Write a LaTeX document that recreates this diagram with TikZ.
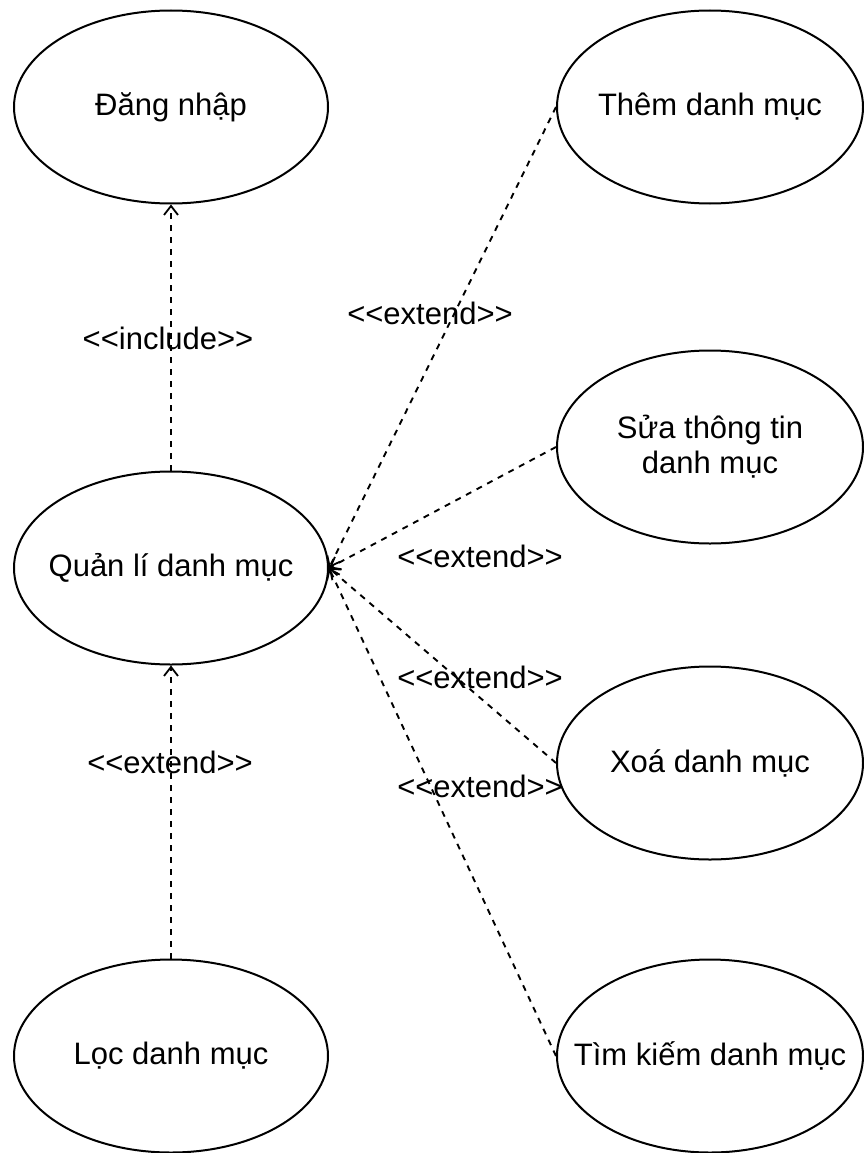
\documentclass[tikz,border=0pt]{standalone}
\usepackage{fontspec}
\setmainfont{Liberation Sans}
\usetikzlibrary{shapes.geometric,arrows.meta}
\begin{document}
\begin{tikzpicture}[x=1pt,y=-1pt,
  usecase/.style={draw, ellipse, line width=2pt, minimum height=193pt, inner sep=0pt},
  leftcase/.style={usecase, minimum width=314pt},
  rightcase/.style={usecase, minimum width=306pt},
  uctext/.style={font=\fontsize{31}{35}\selectfont, align=center, inner sep=0pt},
  rel/.style={dash pattern=on 6pt off 6pt, line width=1.9pt,
    -{Straight Barb[length=9pt,width=14pt,line width=1.8pt]}},
  stereo/.style={font=\fontsize{31}{35}\selectfont, inner sep=0pt}]
\useasboundingbox (0,0) rectangle (864,1153);

% use cases, left column
\node[leftcase, label={[uctext]center:Đăng nhập}] (login) at (171,107) {};
\node[leftcase, label={[uctext]center:Quản lí danh mục}] (manage) at (171,568) {};
\node[leftcase, label={[uctext]center:Lọc danh mục}] (filter) at (171,1056) {};

% use cases, right column
\node[rightcase, label={[uctext]center:Thêm danh mục}] (add) at (710,107) {};
\node[rightcase, label={[uctext]center:{Sửa thông tin\\danh mục}}] (edit) at (710,447) {};
\node[rightcase, label={[uctext]center:Xoá danh mục}] (delete) at (710,763) {};
\node[rightcase, label={[uctext]center:Tìm kiếm danh mục}] (search) at (710,1056) {};

% relations
\draw[rel] (manage.north) -- (login.south);
\draw[rel] (filter.north) -- (manage.south);
\draw[rel] (add.west) -- (manage.east);
\draw[rel] (edit.west) -- (manage.east);
\draw[rel] (delete.west) -- (manage.east);
\draw[rel] (search.west) -- (manage.east);

% stereotype labels
\node[stereo] (lblinc) at (168,338) {<{}<include>{}>};
\node[stereo] (lblfilter) at (170,762) {<{}<extend>{}>};
\node[stereo] (lbladd) at (430,313) {<{}<extend>{}>};
\node[stereo] (lbledit) at (480,556) {<{}<extend>{}>};
\node[stereo] (lbldelete) at (480,677) {<{}<extend>{}>};
\node[stereo] (lblsearch) at (480,786) {<{}<extend>{}>};
\end{tikzpicture}
\end{document}
